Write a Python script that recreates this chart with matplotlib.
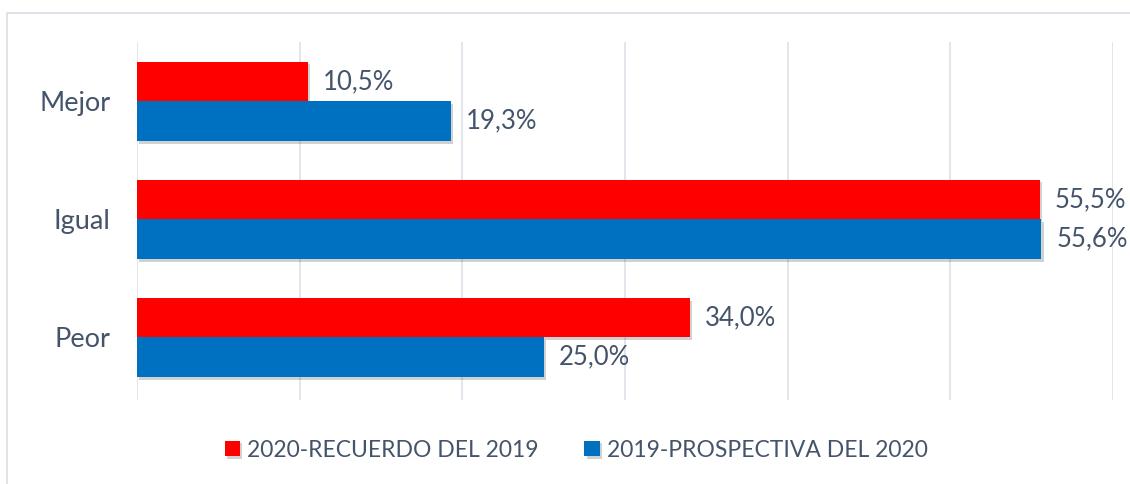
import matplotlib.pyplot as plt
import matplotlib.patheffects as pe
from matplotlib.patches import Rectangle
import numpy as np

categorias = ["Mejor", "Igual", "Peor"]
recuerdo_2019 = [10.5, 55.5, 34.0]
prospectiva_2020 = [19.3, 55.6, 25.0]
etiquetas_recuerdo = ["10,5%", "55,5%", "34,0%"]
etiquetas_prospectiva = ["19,3%", "55,6%", "25,0%"]

plt.rcParams['font.family'] = ['Lato', 'DejaVu Sans']
color_texto = "#44546A"

fig = plt.figure(figsize=(11.3, 4.84), dpi=100)
ax = fig.add_axes([0.1212, 0.1736, 0.8638, 0.7394])

# marco gris claro
fig.patches.append(Rectangle((7 / 1130, -0.05), 1.2, (484 - 13) / 484 + 0.05,
                             transform=fig.transFigure, fill=False,
                             edgecolor="#D9DEE5", linewidth=1.2))

y = np.arange(len(categorias))
alto = 0.335
sombra = [pe.SimplePatchShadow(offset=(1.5, -2), shadow_rgbFace="#000000", alpha=0.18), pe.Normal()]

b1 = ax.barh(y - alto / 2, recuerdo_2019, height=alto, color="#FF0000",
             label="2020-RECUERDO DEL 2019", zorder=3)
b2 = ax.barh(y + alto / 2, prospectiva_2020, height=alto, color="#0070C0",
             label="2019-PROSPECTIVA DEL 2020", zorder=3)
for b in list(b1) + list(b2):
    b.set_path_effects(sombra)

for i in range(len(categorias)):
    ax.text(recuerdo_2019[i] + 0.9, y[i] - alto / 2, etiquetas_recuerdo[i],
            va="center", ha="left", fontsize=18.5, color=color_texto)
    ax.text(prospectiva_2020[i] + 0.9, y[i] + alto / 2, etiquetas_prospectiva[i],
            va="center", ha="left", fontsize=18.5, color=color_texto)

ax.set_xlim(0, 60)
ax.set_ylim(2.53, -0.5)
ax.set_xticks(np.arange(0, 61, 10))
ax.set_xticklabels([])
ax.tick_params(axis="x", length=0)
ax.tick_params(axis="y", length=0, pad=19, labelsize=19.5, labelcolor=color_texto)
ax.set_yticks(y)
ax.set_yticklabels(categorias)
ax.grid(axis="x", color="#DDE2E9", linewidth=1.2, zorder=0)
for s in ax.spines.values():
    s.set_visible(False)

ax.legend(loc="center", bbox_to_anchor=(0.45, -0.14), ncol=2, frameon=False,
          fontsize=16.5, labelcolor=color_texto, handlelength=0.68, handleheight=0.68,
          handletextpad=0.3, columnspacing=2.0)

plt.savefig("out.png", dpi=100)
